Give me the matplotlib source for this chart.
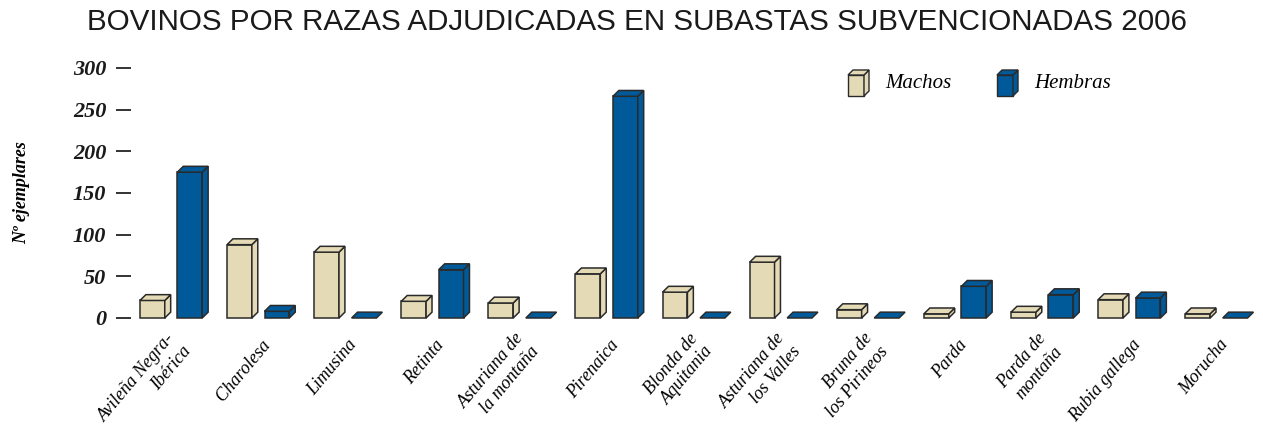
import matplotlib
matplotlib.use("Agg")
import matplotlib.pyplot as plt
from matplotlib.patches import Polygon
from matplotlib.transforms import blended_transform_factory, ScaledTranslation

categories = ["Avileña Negra-\nIbérica", "Charolesa", "Limusina", "Retinta",
              "Asturiana de\nla montaña", "Pirenaica", "Blonda de\nAquitania",
              "Asturiana de\nlos Valles", "Bruna de\nlos Pirineos", "Parda",
              "Parda de\nmontaña", "Rubia gallega", "Morucha"]
machos = [21, 88, 79, 20, 18, 53, 31, 67, 10, 5, 7, 22, 5]
hembras = [175, 8, 0, 58, 0, 266, 0, 0, 0, 38, 28, 24, 0]
yticks = [0, 50, 100, 150, 200, 250, 300]

beige = "#e4dab5"
blue = "#005a9a"
edge = "#2a2a2a"
serif = "Liberation Serif"


def box(ax, x0, w, h, color, dx, dy, y0=0, transform=None, lw=1.1):
    # front, side and top faces of a pseudo-3d bar
    tr = transform if transform is not None else ax.transData
    top = y0 + h
    faces = []
    if h > 0:
        faces.append([(x0, y0), (x0 + w, y0), (x0 + w, top), (x0, top)])
        faces.append([(x0 + w, y0), (x0 + w + dx, y0 + dy), (x0 + w + dx, top + dy), (x0 + w, top)])
    faces.append([(x0, top), (x0 + w, top), (x0 + w + dx, top + dy), (x0 + dx, top + dy)])
    for f in faces:
        ax.add_patch(Polygon(f, closed=True, facecolor=color, edgecolor=edge,
                             lw=lw, joinstyle="miter", transform=tr, clip_on=False))


fig = plt.figure(figsize=(12.63, 4.33), dpi=100)
ax = fig.add_axes([0.104, 0.2656, 0.878, 0.5774])

n = len(categories)
ax.set_xlim(-0.49, 12.24)
ax.set_ylim(0, 300)

w = 0.285
dx, dy = 0.068, 7.0
for i in range(n):
    box(ax, i - 0.215 - w / 2 - dx / 2, w, machos[i], beige, dx, dy)
    box(ax, i + 0.215 - w / 2 - dx / 2, w, hembras[i], blue, dx, dy)

for s in ax.spines.values():
    s.set_visible(False)
ax.set_xticks([])
ax.set_yticks(yticks)
ax.set_yticklabels([str(v) for v in yticks], fontfamily=serif, fontweight="bold",
                   fontstyle="italic", fontsize=16, color="#1a1a1a")
ax.tick_params(axis="y", length=11, width=1.4, color="#333333", pad=7)

ax.set_ylabel("Nº ejemplares", fontfamily=serif, fontweight="bold",
              fontstyle="italic", fontsize=13, labelpad=31)

trans = blended_transform_factory(ax.transData, ax.transAxes)
off = ScaledTranslation(6 / 100, -24 / 100, fig.dpi_scale_trans)
for i, lab in enumerate(categories):
    ax.text(i, 0, lab, transform=trans + off, rotation=50, rotation_mode="anchor",
            ha="right", va="center", multialignment="right",
            fontfamily=serif, fontstyle="italic", fontsize=13, linespacing=1.25)

# legend with small boxes in figure pixels
ftr = fig.dpi_scale_trans
for px, label, color in [(848, "Machos", beige), (997, "Hembras", blue)]:
    box(ax, px / 100, 0.16, 0.21, color, 0.05, 0.05, y0=(433 - 96) / 100,
        transform=ftr, lw=1.0)
    fig.text((px + 37) / 1263, (433 - 84) / 433, label, fontfamily=serif,
             fontstyle="italic", fontsize=15, va="center", ha="left")

fig.text(0.504, 0.949, "BOVINOS POR RAZAS ADJUDICADAS EN SUBASTAS SUBVENCIONADAS 2006",
         fontfamily="Liberation Sans", fontsize=21.3, ha="center", va="center",
         color="#1a1a1a")

fig.savefig("out.png", dpi=100)
